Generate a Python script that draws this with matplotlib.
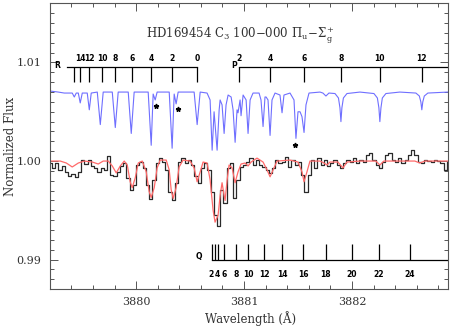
import matplotlib
matplotlib.use("Agg")
from matplotlib import pyplot as plt
from matplotlib.ticker import MultipleLocator
import numpy as np

plt.rcParams['font.family'] = ['DejaVu Serif']
plt.rcParams['mathtext.fontset'] = 'dejavuserif'

# observed spectrum (histogram), uniform grid of 0.03 A
obs_start = 3879.204
obs_step = 0.03
obs_flux = [0.9998, 0.9993, 0.9998, 0.9991, 0.9995, 0.9989, 0.9985, 0.9987, 0.9984, 0.9989,
            1.0001, 0.9997, 1.0001, 0.9995, 0.9993, 0.9989, 0.9993, 0.9991, 1.0005, 0.9986,
            0.9985, 0.9989, 0.9995, 0.9998, 0.9983, 0.9971, 0.9976, 0.9996, 0.9999, 0.9993,
            0.9976, 0.9962, 0.9981, 0.9998, 1.0003, 0.9999, 0.9991, 0.9969, 0.9960, 0.9978,
            0.9999, 1.0003, 0.9998, 1.0001, 0.9996, 0.9985, 0.9978, 0.9993, 0.9998, 0.9991,
            0.9969, 0.9945, 0.9934, 0.9971, 0.9957, 0.9993, 0.9998, 0.9963, 0.9981, 0.9994,
            0.9996, 0.9999, 1.0003, 0.9996, 1.0001, 0.9996, 0.9994, 0.9991, 0.9988, 0.9993,
            1.0001, 0.9998, 0.9999, 1.0004, 0.9994, 1.0001, 0.9996, 0.9999, 0.9986, 0.9969,
            0.9986, 1.0001, 0.9993, 1.0003, 0.9996, 1.0001, 0.9995, 0.9998, 1.0001, 0.9996,
            0.9993, 0.9998, 1.0001, 0.9999, 1.0003, 0.9998, 1.0001, 0.9999, 1.0006, 1.0008,
            1.0001, 0.9996, 0.9993, 0.9999, 1.0006, 1.0008, 1.0001, 0.9999, 1.0003, 0.9998,
            1.0001, 1.0006, 1.0011, 1.0006, 0.9999, 0.9998, 1.0001, 1.0000, 0.9999, 1.0001,
            1.0000, 0.9998, 0.9991, 0.9999]

# model convolved to instrument resolution
model_wave = [3879.204, 3879.296, 3879.352, 3879.407, 3879.463, 3879.519, 3879.593, 3879.648,
              3879.694, 3879.741, 3879.778, 3879.815, 3879.852, 3879.889, 3879.917, 3879.944,
              3879.963, 3879.991, 3880.019, 3880.056, 3880.093, 3880.120, 3880.139, 3880.167,
              3880.194, 3880.222, 3880.278, 3880.306, 3880.324, 3880.343, 3880.370, 3880.398,
              3880.435, 3880.500, 3880.537, 3880.565, 3880.593, 3880.620, 3880.657, 3880.685,
              3880.713, 3880.731, 3880.759, 3880.778, 3880.796, 3880.815, 3880.824, 3880.843,
              3880.861, 3880.889, 3880.917, 3880.944, 3880.972, 3881.009, 3881.037, 3881.065,
              3881.120, 3881.176, 3881.213, 3881.241, 3881.269, 3881.306, 3881.426, 3881.500,
              3881.537, 3881.556, 3881.583, 3881.611, 3881.704, 3881.741, 3881.769, 3881.796,
              3881.870, 3881.917, 3881.954, 3882.074, 3882.222, 3882.259, 3882.296, 3882.583,
              3882.630, 3882.676, 3882.889]
model_flux = [1.0000, 1.0000, 0.9998, 0.9994, 0.9998, 1.0000, 0.9999, 0.9997,
              1.0000, 1.0000, 0.9995, 0.9988, 0.9995, 1.0000, 0.9996, 0.9979,
              0.9973, 0.9983, 0.9998, 1.0000, 0.9989, 0.9969, 0.9963, 0.9973,
              0.9993, 1.0001, 1.0001, 0.9991, 0.9971, 0.9962, 0.9973, 0.9994,
              1.0001, 1.0000, 0.9993, 0.9979, 0.9989, 0.9999, 0.9998, 0.9981,
              0.9950, 0.9938, 0.9945, 0.9965, 0.9978, 0.9965, 0.9960, 0.9981,
              0.9996, 0.9993, 0.9978, 0.9989, 0.9997, 0.9998, 0.9995, 0.9999,
              1.0003, 0.9999, 0.9991, 0.9984, 0.9991, 1.0000, 1.0001, 0.9999,
              0.9989, 0.9979, 0.9989, 1.0000, 1.0000, 0.9998, 0.9996, 0.9999,
              0.9999, 0.9993, 0.9999, 1.0000, 1.0000, 0.9996, 1.0000, 1.0000,
              0.9998, 1.0000, 1.0000]

# high resolution model, shifted up
hires_wave = [3879.204, 3879.278, 3879.333, 3879.389, 3879.407, 3879.426, 3879.444,
              3879.463, 3879.481, 3879.500, 3879.546, 3879.565, 3879.583, 3879.639,
              3879.667, 3879.694, 3879.778, 3879.806, 3879.833, 3879.926, 3879.954,
              3879.981, 3880.111, 3880.139, 3880.157, 3880.176, 3880.194, 3880.306,
              3880.333, 3880.352, 3880.370, 3880.389, 3880.537, 3880.565, 3880.593,
              3880.657, 3880.685, 3880.704, 3880.722, 3880.750, 3880.769, 3880.778,
              3880.796, 3880.815, 3880.833, 3880.852, 3880.880, 3880.898, 3880.917,
              3880.935, 3880.944, 3880.963, 3880.972, 3880.991, 3881.019, 3881.037,
              3881.056, 3881.083, 3881.139, 3881.157, 3881.176, 3881.194, 3881.204,
              3881.222, 3881.241, 3881.259, 3881.287, 3881.333, 3881.352, 3881.370,
              3881.426, 3881.463, 3881.481, 3881.500, 3881.519, 3881.537, 3881.556,
              3881.574, 3881.602, 3881.704, 3881.731, 3881.759, 3881.787, 3881.843,
              3881.875, 3881.889, 3881.898, 3881.907, 3881.921, 3881.954, 3882.074,
              3882.204, 3882.236, 3882.250, 3882.259, 3882.269, 3882.282, 3882.315,
              3882.444, 3882.593, 3882.625, 3882.639, 3882.648, 3882.657, 3882.671,
              3882.704, 3882.889]
hires_flux = [1.0071, 1.0070, 1.0069, 1.0069, 1.0069, 1.0065, 1.0069,
              1.0069, 1.0059, 1.0069, 1.0069, 1.0052, 1.0069, 1.0070,
              1.0037, 1.0070, 1.0070, 1.0034, 1.0070, 1.0070, 1.0028,
              1.0070, 1.0070, 1.0016, 1.0068, 1.0062, 1.0070, 1.0070,
              1.0013, 1.0068, 1.0058, 1.0070, 1.0070, 1.0037, 1.0070,
              1.0069, 1.0062, 1.0011, 1.0050, 1.0011, 1.0052, 1.0062,
              1.0057, 1.0028, 1.0057, 1.0067, 1.0065, 1.0052, 1.0019,
              1.0052, 1.0049, 1.0062, 1.0046, 1.0067, 1.0062, 1.0028,
              1.0062, 1.0069, 1.0069, 1.0062, 1.0035, 1.0065, 1.0065,
              1.0062, 1.0026, 1.0062, 1.0069, 1.0067, 1.0049, 1.0067,
              1.0069, 1.0062, 1.0023, 1.0050, 1.0050, 1.0045, 1.0029,
              1.0057, 1.0069, 1.0070, 1.0069, 1.0066, 1.0069, 1.00685,
              1.0064, 1.0054, 1.0040, 1.0054, 1.0064, 1.00685, 1.0070,
              1.00685, 1.0064, 1.0054, 1.0040, 1.0054, 1.0064, 1.00685,
              1.0070, 1.0069, 1.0066, 1.0060, 1.0052, 1.0060, 1.0066,
              1.0069, 1.0070]

# lines marked with an asterisk
star_wave = [3880.185, 3880.389, 3881.472]
star_flux = [1.0056, 1.0053, 1.0016]

# C3 line positions
r_wave = [3879.426, 3879.481, 3879.565, 3879.685, 3879.806, 3879.963, 3880.139, 3880.333, 3880.565]
r_labels = ['', '14', '12', '10', '8', '6', '4', '2', '0']
p_wave = [3880.954, 3881.241, 3881.556, 3881.898, 3882.259, 3882.648]
p_labels = ['2', '4', '6', '8', '10', '12']
q_wave = [3880.704, 3880.731, 3880.759, 3880.815, 3880.926, 3881.037, 3881.185,
          3881.352, 3881.546, 3881.759, 3882.000, 3882.250, 3882.537]
q_labels = ['2', '4', '', '6', '8', '10', '12', '14', '16', '18', '20', '22', '24']

xmin, xmax = 3879.20, 3882.89
ymin, ymax = 0.98701, 1.01604

fig = plt.figure(figsize=(4.58, 3.30), dpi=100)
ax = fig.add_axes([0.109, 0.124, 0.869, 0.867])

obs_wave = obs_start + obs_step * np.arange(len(obs_flux))
ax.plot(obs_wave, obs_flux, drawstyle='steps-mid', color='#2a2a2a', lw=0.9)
ax.plot(model_wave, model_flux, color='#ff6a6a', lw=0.9)
ax.plot(hires_wave, hires_flux, color='#6f6fff', lw=0.8)
ax.plot(star_wave, star_flux, ls='none', marker='*', ms=3.5, color='black')

# branch markers
lab_kw = dict(fontsize=5.5, fontweight='bold', family='DejaVu Sans')
ax.plot([3879.361, r_wave[-1]], [1.00954, 1.00954], color='black', lw=0.9)
ax.vlines(r_wave, 1.00802, 1.00954, color='black', lw=0.9)
for w, l in zip(r_wave, r_labels):
    ax.text(w, 1.0099, l, ha='center', va='bottom', **lab_kw)
ax.text(3879.269, 1.0097, 'R', ha='center', va='center', **lab_kw)

ax.plot([p_wave[0], xmax], [1.00954, 1.00954], color='black', lw=0.9)
ax.vlines(p_wave, 1.00802, 1.00954, color='black', lw=0.9)
for w, l in zip(p_wave, p_labels):
    ax.text(w, 1.0099, l, ha='center', va='bottom', **lab_kw)
ax.text(3880.907, 1.0097, 'P', ha='center', va='center', **lab_kw)

ax.plot([q_wave[0], xmax], [0.99, 0.99], color='black', lw=0.9)
ax.vlines(q_wave, 0.99, 0.99162, color='black', lw=0.9)
for i, (w, l) in enumerate(zip(q_wave, q_labels)):
    ha = 'center'
    if i == 0:
        ha = 'right'
        w = w + 0.012
    elif i == 1:
        ha = 'left'
        w = w - 0.008
    ax.text(w, 0.9889, l, ha=ha, va='top', **lab_kw)
ax.text(3880.583, 0.9903, 'Q', ha='center', va='center', **lab_kw)

ax.text(3880.093, 1.0128, r'HD169454 C$_3$ 100$-$000 $\Pi_{\rm u}\!-\!\Sigma_{\rm g}^{+}$',
        ha='left', va='center', fontsize=8.5, color='#333333')

ax.set_xlim(xmin, xmax)
ax.set_ylim(ymin, ymax)
ax.xaxis.set_major_locator(MultipleLocator(1))
ax.xaxis.set_minor_locator(MultipleLocator(0.2))
ax.yaxis.set_major_locator(MultipleLocator(0.01))
ax.yaxis.set_minor_locator(MultipleLocator(0.001))
ax.xaxis.set_major_formatter(plt.FuncFormatter(lambda v, p: '%d' % round(v)))
ax.yaxis.set_major_formatter(plt.FuncFormatter(lambda v, p: '%.2f' % v))
ax.tick_params(which='both', direction='in', top=True, right=True, color='#555555',
               labelsize=8, labelcolor='#333333', width=0.7)
ax.tick_params(which='major', length=6, pad=6)
ax.tick_params(which='minor', length=3)
for s in ax.spines.values():
    s.set_color('#555555')
    s.set_linewidth(0.8)

fig.text(0.546, 0.036, 'Wavelength (Å)', ha='center', va='center', fontsize=8.5, color='#333333')
fig.text(0.022, 0.555, 'Normalized Flux', ha='center', va='center', rotation=90,
         fontsize=8.5, color='#333333')

fig.savefig('out.png', dpi=100)
